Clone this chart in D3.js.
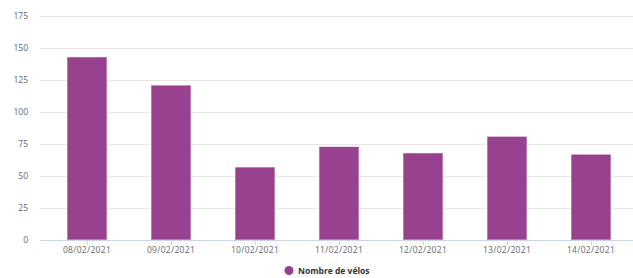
<!DOCTYPE html>
<html><head><meta charset="utf-8">
<script src="https://cdn.jsdelivr.net/npm/d3@7"></script>
<style>body{margin:0;background:#fff}svg{display:block}text{font-family:"Open Sans",sans-serif}</style>
</head><body>
<svg id="c" width="633" height="278"></svg>
<script>
const categories = ["08/02/2021","09/02/2021","10/02/2021","11/02/2021","12/02/2021","13/02/2021","14/02/2021"];
const values = [143,121,57,73,68,81,67];
const yTicks = [0,25,50,75,100,125,150,175];
const seriesName = "Nombre de vélos";

(function(){
const svg = d3.select("#c");
const mLeft = 40, mRight = 633, mTop = 16, mBottom = 240;
const x = d3.scaleBand().domain(categories).range([45, 633]).paddingInner(0.524).paddingOuter(0.262);
const y = d3.scaleLinear().domain([0,175]).range([mBottom, mTop]);

svg.append("g").selectAll("line").data(yTicks.filter(d=>d>0)).join("line")
  .attr("x1", mLeft).attr("x2", mRight)
  .attr("y1", d=>Math.round(y(d))+0.5).attr("y2", d=>Math.round(y(d))+0.5)
  .attr("stroke","#e6e6e6").attr("stroke-width",1);

svg.append("g").selectAll("text").data(yTicks).join("text")
  .attr("x", 28).attr("y", d=>y(d)+3)
  .attr("text-anchor","end").attr("font-size",8.5).attr("fill","#666")
  .text(d=>d);

svg.append("g").selectAll("rect").data(values).join("rect")
  .attr("x",(d,i)=>x(categories[i])).attr("width",x.bandwidth())
  .attr("y",d=>y(d)).attr("height",d=>mBottom-y(d))
  .attr("fill","#97418f").attr("stroke","rgba(255,255,255,0.6)").attr("stroke-width",1);

svg.append("line").attr("x1",mLeft).attr("x2",mRight).attr("y1",mBottom+0.5).attr("y2",mBottom+0.5)
  .attr("stroke","#ccd6eb");
svg.append("g").selectAll("line").data(categories).join("line")
  .attr("x1",d=>Math.round(x(d)+x.bandwidth()/2)+0.5).attr("x2",d=>Math.round(x(d)+x.bandwidth()/2)+0.5)
  .attr("y1",mBottom).attr("y2",mBottom+5).attr("stroke","#ccd6eb");
svg.append("g").selectAll("text").data(categories).join("text")
  .attr("x",d=>x(d)+x.bandwidth()/2).attr("y",253)
  .attr("text-anchor","middle").attr("font-size",8.5).attr("fill","#666").attr("letter-spacing",0.3)
  .text(d=>d);

svg.append("circle").attr("cx",289).attr("cy",270.5).attr("r",4.5).attr("fill","#97418f");
svg.append("text").attr("x",298).attr("y",274).attr("font-size",8.5).attr("font-weight","bold").attr("fill","#333").text(seriesName);
})();
</script>
</body></html>
